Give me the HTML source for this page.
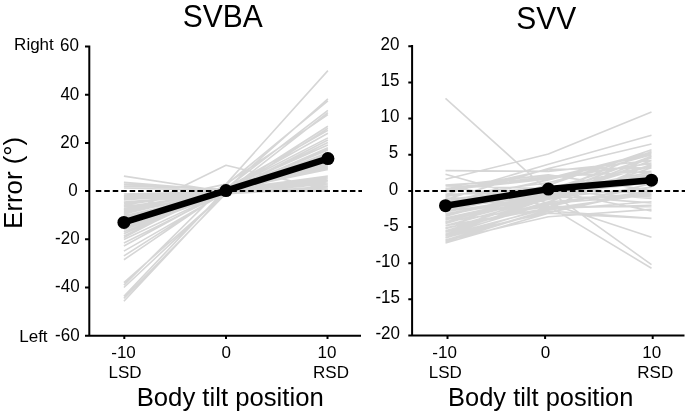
<!DOCTYPE html>
<html><head><meta charset="utf-8"><style>
html,body{margin:0;padding:0;background:#fff;width:685px;height:414px;overflow:hidden}
svg{display:block;font-family:"Liberation Sans",sans-serif;will-change:transform}
</style></head><body>
<svg width="685" height="414" viewBox="0 0 685 414">
<rect width="685" height="414" fill="#fff"/>
<path d="M123.9 301.24L226 192.25L327.9 140.01M123.9 298.35L226 193.52L327.9 128.44M123.9 296.18L226 189.12L327.9 98.8M123.9 287.5L226 192.08L327.9 112.53M123.9 285.09L226 184.11L327.9 70.6M123.9 282.68L226 192.25L327.9 142.42M123.9 259.78L226 190.4L327.9 133.26M123.9 255.93L226 190.88L327.9 148.92M123.9 251.11L226 192.41L327.9 147.72M123.9 246.05L226 190.38L327.9 145.07M123.9 242.91L226 192.3L327.9 150.13M123.9 239.54L226 191.37L327.9 126.27M123.9 237.61L226 184.8L327.9 100.97M123.9 235.93L226 188.39L327.9 110.36M123.9 233.76L226 189.44L327.9 154.95M123.9 231.83L226 192.57L327.9 152.54M123.9 229.66L226 192.32L327.9 153.75M123.9 228.45L226 191.94L327.9 167M123.9 227.25L226 190.51L327.9 158.56M123.9 224.84L226 189.17L327.9 162.18M123.9 223.63L226 190.01L327.9 157.36M123.9 222.43L226 188.16L327.9 130.37M123.9 220.02L226 190.94L327.9 159.77M123.9 218.81L226 189.32L327.9 176.64M123.9 217.61L226 191.87L327.9 165.79M123.9 216.65L226 193.53L327.9 164.59M123.9 215.68L226 193.08L327.9 179.05M123.9 214L226 190.07L327.9 182.66M123.9 213.03L226 192.76L327.9 180.25M123.9 212.07L226 191.21L327.9 168.2M123.9 210.38L226 193.88L327.9 186.28M123.9 209.66L226 190.22L327.9 137.84M123.9 208.45L226 189.81L327.9 175.92M123.9 206.76L226 192.61L327.9 189.89M123.9 205.8L226 184.11L327.9 114.7M123.9 205.08L226 189.77L327.9 177.84M123.9 203.15L226 193.2L327.9 183.87M123.9 201.94L226 193.8L327.9 188.21M123.9 200.02L226 192.34L327.9 187.48M123.9 198.81L226 191.61L327.9 191.1M123.9 197.12L226 190.95L327.9 181.46M123.9 195.92L226 190.35L327.9 169.41M123.9 193.99L226 191.26L327.9 163.38M123.9 187.97L226 190.74L327.9 190.62M123.9 186.28L226 189.11L327.9 185.07M123.9 184.35L226 189.48L327.9 188.69M123.9 182.42L226 190.43L327.9 181.94M123.9 176.16L226 191.82L327.9 178.57M123.9 215.2L226 165.31L327.9 189.89" fill="none" stroke="#d6d6d6" stroke-width="1.6" stroke-linejoin="round"/>
<path d="M445.5 98.36L548.4 190.9L651.5 264.65M445.5 179.33L548.4 154.03L651.5 112.09M445.5 194.52L548.4 164.15L651.5 135.23M445.5 199.58L548.4 168.49L651.5 143.91M445.5 170.66L548.4 171.38L651.5 160.53M445.5 174.27L548.4 203.19L651.5 237.17M445.5 185.12L548.4 206.08L651.5 268.26M445.5 185L548.4 178.24L651.5 152.31M445.5 185.85L548.4 188.58L651.5 182.58M445.5 186.4L548.4 174.84L651.5 190.47M445.5 189.94L548.4 179.06L651.5 162.92M445.5 188.49L548.4 176.66L651.5 171.35M445.5 192.08L548.4 169.45L651.5 167.65M445.5 194.25L548.4 192.1L651.5 183.07M445.5 194.87L548.4 187.85L651.5 181.78M445.5 196.35L548.4 182.66L651.5 154.81M445.5 198.04L548.4 197.95L651.5 177.53M445.5 201.43L548.4 190.45L651.5 210.93M445.5 201.51L548.4 194.01L651.5 182.76M445.5 199.55L548.4 188.71L651.5 165.65M445.5 206.19L548.4 193.75L651.5 174.06M445.5 206.48L548.4 190.1L651.5 180.92M445.5 209.09L548.4 190.41L651.5 198.45M445.5 207.59L548.4 195.77L651.5 175.64M445.5 211.24L548.4 189.35L651.5 193.44M445.5 211.78L548.4 195.87L651.5 164.89M445.5 213.81L548.4 195.45L651.5 202.89M445.5 215.27L548.4 194.37L651.5 156.27M445.5 218.14L548.4 195.44L651.5 178.66M445.5 219.04L548.4 197.94L651.5 187.29M445.5 221.62L548.4 206.43L651.5 206.66M445.5 221.95L548.4 192.01L651.5 166.41M445.5 223.07L548.4 196.87L651.5 176.51M445.5 225.64L548.4 198.31L651.5 157.74M445.5 227.82L548.4 207.99L651.5 163.91M445.5 228.82L548.4 198.91L651.5 175.25M445.5 231.94L548.4 192.16L651.5 151.55M445.5 232.13L548.4 202L651.5 192.38M445.5 234.91L548.4 208.52L651.5 194.26M445.5 234.36L548.4 203.47L651.5 195.12M445.5 235.72L548.4 212.72L651.5 190.59M445.5 237.61L548.4 211.05L651.5 218.37M445.5 241.42L548.4 210.08L651.5 192.93M445.5 240.38L548.4 216.69L651.5 209.42M445.5 242.98L548.4 213.22L651.5 218.37M445.5 230.67L548.4 201.75L651.5 167.76M445.5 216.21L548.4 189.45L651.5 157.64M445.5 201.75L548.4 180.06L651.5 153.3M445.5 223.44L548.4 194.52L651.5 174.99M445.5 237.9L548.4 206.81L651.5 183.67M445.5 188.73L548.4 177.89L651.5 163.43M445.5 211.14L548.4 185.12L651.5 149.69M445.5 234.28L548.4 198.13L651.5 160.53M445.5 228.5L548.4 204.64L651.5 187.28M445.5 219.82L548.4 199.58L651.5 177.89M445.5 214.04L548.4 197.41L651.5 196.68M445.5 240.06L548.4 209.7L651.5 201.75M445.5 208.25L548.4 192.35L651.5 172.1M445.5 225.6L548.4 208.25L651.5 205.36" fill="none" stroke="#d6d6d6" stroke-width="1.6" stroke-linejoin="round"/>
<line x1="95.8" y1="191.1" x2="362" y2="191.1" stroke="#000" stroke-width="2" stroke-dasharray="5.5 2.97"/>
<line x1="415.1" y1="191" x2="685" y2="191" stroke="#000" stroke-width="2" stroke-dasharray="5.6 3"/>
<path d="M89.3 45.5V336.7M85 335.7H361M85 46.5H89M85 94.7H89M85 142.9H89M85 191.1H89M85 239.3H89M85 287.5H89M85 335.7H89M124.3 335V339M226 335V339M327.5 335V339M412.1 45V336.4M408.3 335.4H684.5M408.3 46.3H412M408.3 82.45H412M408.3 118.6H412M408.3 154.75H412M408.3 190.9H412M408.3 227.05H412M408.3 263.2H412M408.3 299.35H412M408.3 335.5H412M447.5 335V339M545.1 335V339M652.7 335V339" fill="none" stroke="#000" stroke-width="2"/>
<polyline points="123.9,222.43 226,190.62 327.9,158.56" fill="none" stroke="#000" stroke-width="6.5" stroke-linejoin="round"/><circle cx="123.9" cy="222.43" r="6.5" fill="#000"/><circle cx="226" cy="190.62" r="6.5" fill="#000"/><circle cx="327.9" cy="158.56" r="6.5" fill="#000"/>
<polyline points="445.5,205.72 548.4,189.09 651.5,180.2" fill="none" stroke="#000" stroke-width="6.5" stroke-linejoin="round"/><circle cx="445.5" cy="205.72" r="6.5" fill="#000"/><circle cx="548.4" cy="189.09" r="6.5" fill="#000"/><circle cx="651.5" cy="180.2" r="6.5" fill="#000"/>
<g font-family="Liberation Sans, sans-serif" fill="#000"><text font-size="17" text-anchor="end" transform="translate(79 50.6) scale(1 1.04)">60</text><text font-size="17" text-anchor="end" transform="translate(79.3 100) scale(1 1.04)">40</text><text font-size="17" text-anchor="end" transform="translate(79.2 147.5) scale(1 1.04)">20</text><text font-size="17" text-anchor="end" transform="translate(77.8 196.1) scale(1 1.04)">0</text><text font-size="17" text-anchor="end" transform="translate(79.6 243.9) scale(1 1.04)">-20</text><text font-size="17" text-anchor="end" transform="translate(79.6 292.1) scale(1 1.04)">-40</text><text font-size="17" text-anchor="end" transform="translate(79.6 341) scale(1 1.04)">-60</text><text font-size="17" text-anchor="end" transform="translate(399.4 50) scale(1 1.04)">20</text><text font-size="17" text-anchor="end" transform="translate(399.4 86.15) scale(1 1.04)">15</text><text font-size="17" text-anchor="end" transform="translate(399.4 122.3) scale(1 1.04)">10</text><text font-size="17" text-anchor="end" transform="translate(398.1 158.45) scale(1 1.04)">5</text><text font-size="17" text-anchor="end" transform="translate(398.1 194.6) scale(1 1.04)">0</text><text font-size="17" text-anchor="end" transform="translate(398.7 230.75) scale(1 1.04)">-5</text><text font-size="17" text-anchor="end" transform="translate(400 266.9) scale(1 1.04)">-10</text><text font-size="17" text-anchor="end" transform="translate(400 303.05) scale(1 1.04)">-15</text><text font-size="17" text-anchor="end" transform="translate(400 339.2) scale(1 1.04)">-20</text><text font-size="17" text-anchor="end" transform="translate(53.8 50)">Right</text><text font-size="17" text-anchor="end" transform="translate(47.6 341.9)">Left</text><text font-size="17" text-anchor="middle" transform="translate(123.5 358.3)">-10</text><text font-size="17" text-anchor="middle" transform="translate(226.3 358.3)">0</text><text font-size="17" text-anchor="middle" transform="translate(327 358.3)">10</text><text font-size="17" text-anchor="middle" transform="translate(125 378)">LSD</text><text font-size="17" text-anchor="middle" transform="translate(331 378)">RSD</text><text font-size="17" text-anchor="middle" transform="translate(444.6 358.3)">-10</text><text font-size="17" text-anchor="middle" transform="translate(545.4 358.3)">0</text><text font-size="17" text-anchor="middle" transform="translate(651.8 358.3)">10</text><text font-size="17" text-anchor="middle" transform="translate(445.3 378)">LSD</text><text font-size="17" text-anchor="middle" transform="translate(655.3 378)">RSD</text><text font-size="25" text-anchor="middle" transform="translate(230.2 405.6) scale(1.028 1)">Body tilt position</text><text font-size="25" text-anchor="middle" transform="translate(540.7 405.6) scale(1.018 1)">Body tilt position</text><text font-size="25" text-anchor="middle" transform="translate(22 182.8) rotate(-90) scale(1.03 1)">Error (°)</text><text font-size="30" text-anchor="middle" transform="translate(222.7 26.6) scale(1 1.075)">SVBA</text><text font-size="30" text-anchor="middle" transform="translate(546.2 29.4) scale(1 1.075)">SVV</text></g>
</svg>
</body></html>
